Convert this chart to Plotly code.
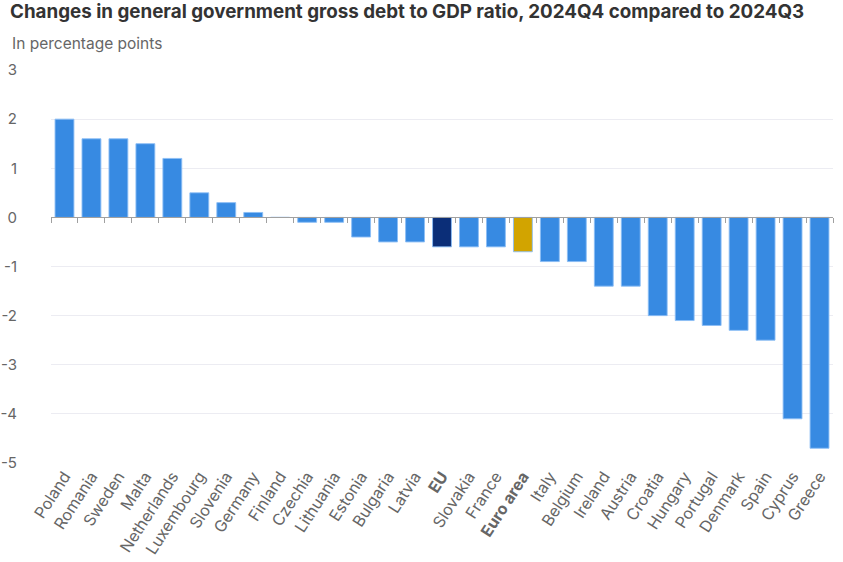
import plotly.graph_objects as go

countries = ["Poland", "Romania", "Sweden", "Malta", "Netherlands", "Luxembourg", "Slovenia",
             "Germany", "Finland", "Czechia", "Lithuania", "Estonia", "Bulgaria", "Latvia", "EU",
             "Slovakia", "France", "Euro area", "Italy", "Belgium", "Ireland", "Austria", "Croatia",
             "Hungary", "Portugal", "Denmark", "Spain", "Cyprus", "Greece"]
values = [2.0, 1.6, 1.6, 1.5, 1.2, 0.5, 0.3, 0.1, 0.0, -0.1, -0.1, -0.4, -0.5, -0.5, -0.6,
          -0.6, -0.6, -0.7, -0.9, -0.9, -1.4, -1.4, -2.0, -2.1, -2.2, -2.3, -2.5, -4.1, -4.7]
y_ticks = [3, 2, 1, 0, -1, -2, -3, -4, -5]
highlight = {"EU": "#0b2e78", "Euro area": "#d2a400"}
base_color = "#378ae2"
y_min, y_max = -5, 3

colors = [highlight.get(c, base_color) for c in countries]
ticktext = [f"<b>{c}</b>" if c in highlight else c for c in countries]
y_ticktext = [str(v) for v in y_ticks]
x_range = [-0.5, len(countries) - 0.5]

fig = go.Figure()
fig.add_trace(go.Bar(x=countries, y=values,
                     marker=dict(color=colors, line=dict(color="rgba(140,190,245,0.9)", width=1)),
                     xaxis="x", yaxis="y", hoverinfo="x+y"))
fig.add_trace(go.Scatter(x=countries, y=values, mode="markers", marker=dict(opacity=0),
                         xaxis="x2", yaxis="y", hoverinfo="skip", showlegend=False))

fig.update_layout(
    width=843, height=562,
    margin=dict(l=51, r=10, t=70, b=99),
    plot_bgcolor="white", paper_bgcolor="white",
    showlegend=False,
    bargap=0.30,
    font=dict(family="Inter, Liberation Sans, Arial, sans-serif", color="#666666", size=14),
    title=dict(text="<b>Changes in general government gross debt to GDP ratio, 2024Q4 compared to 2024Q3</b>",
               x=10 / 843, xanchor="left", xref="container", y=1 - 5 / 562, yanchor="top",
               font=dict(size=18.8, color="#333333")),
    xaxis=dict(type="category", categoryorder="array", categoryarray=countries,
               range=x_range, automargin=False,
               tickmode="array", tickvals=countries, ticktext=ticktext,
               tickangle=-57, showgrid=False, showline=False, ticks="",
               tickfont=dict(size=16, color="#666666"), zeroline=False),
    xaxis2=dict(type="category", overlaying="x", matches="x", anchor="free",
                position=(0 - y_min) / (y_max - y_min), range=x_range,
                showline=True, linecolor="#a0a0a0", linewidth=1,
                ticks="outside", tickson="boundaries", ticklen=5, tickcolor="#a0a0a0",
                showticklabels=False, showgrid=False, zeroline=False),
    yaxis=dict(range=[y_min, y_max], tickmode="array", tickvals=y_ticks, ticktext=y_ticktext,
               showgrid=True, gridcolor="#ececf2",
               zeroline=False, ticklabelstandoff=33, automargin=False,
               tickfont=dict(size=15, color="#666666"), showline=False),
)
fig.add_annotation(text="In percentage points", xref="paper", yref="paper",
                   x=(10 - 51) / 782, y=(463 - 43) / 393,
                   xanchor="left", yanchor="middle", showarrow=False,
                   font=dict(size=15.5, color="#666666"))

fig.write_html("out.html")
